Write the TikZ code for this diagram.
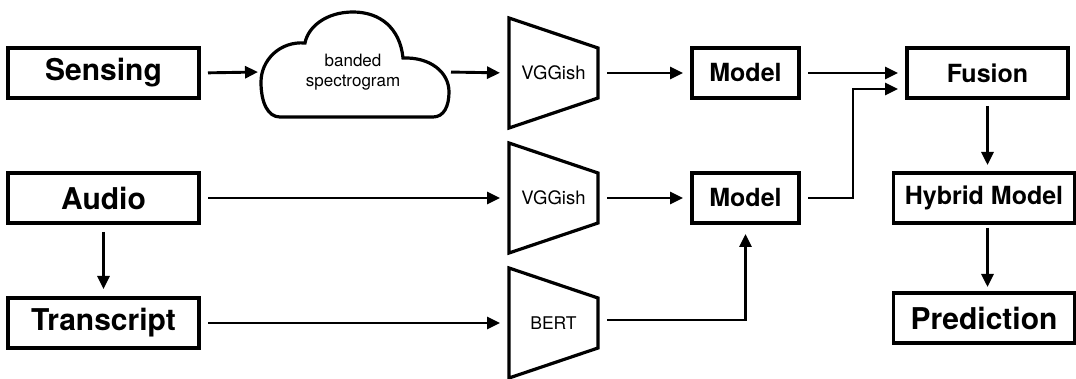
\documentclass[tikz,border=0pt]{standalone}
\usepackage{fontspec}
\setmainfont{TeX Gyre Heros}
\usetikzlibrary{arrows.meta}

\begin{document}
\begin{tikzpicture}[x=1pt,y=-1pt,line join=miter,
		box/.style={draw,line width=3.2pt,minimum width=191pt,minimum height=50pt,inner sep=0pt,outer sep=0pt,font=\fontsize{30}{36}\selectfont\bfseries},
		modelbox/.style={box,minimum width=107pt,font=\fontsize{25}{30}\selectfont\bfseries},
		net/.style={minimum width=89pt,minimum height=50pt,inner sep=0pt,outer sep=0pt,font=\fontsize{18.5}{22}\selectfont},
		arr/.style={-{Triangle[length=13pt,width=12pt]},line width=2.9pt,shorten <=9pt,shorten >=9pt}]
		\useasboundingbox (0,0) rectangle (1076,379);
		% inputs
		\node[box] (sensing) at (103.5,73) {Sensing};
		\node[box] (audio) at (103.5,198) {Audio};
		\node[box] (transcript) at (103.5,323) {Transcript};
		% cloud
		\node[minimum width=188pt,inner sep=0pt,outer sep=0pt,align=center,font=\fontsize{17}{20}\selectfont] (cloud) at (353,72) {banded\\spectrogram};
		\draw [line width=3.2pt] (280,117) -- (433,117)
			.. controls (444,117) and (449,106) .. (449,92)
			.. controls (449,72) and (430,57) .. (403,58)
			.. controls (400,28) and (380,12) .. (353,12)
			.. controls (326,12) and (308,27) .. (305,43)
			.. controls (280,41) and (261,60) .. (261,82)
			.. controls (261,103) and (268,117) .. (280,117) -- cycle;
		% encoders
		\node[net] (vgg1) at (553.5,73) {VGGish};
		\node[net] (vgg2) at (553.5,198) {VGGish};
		\node[net,font=\fontsize{17.5}{21}\selectfont] (bert) at (553.5,323) {BERT};
		\foreach \n in {vgg1,vgg2,bert}
			\draw [line width=3.2pt] (\n.north east) -- ([yshift=30pt]\n.north west) -- ([yshift=-30pt]\n.south west) -- (\n.south east) -- cycle;
		% models
		\node[modelbox] (model1) at (745.5,73) {Model};
		\node[modelbox] (model2) at (745.5,198) {Model};
		\node[box,minimum width=161pt,font=\fontsize{25}{30}\selectfont\bfseries] (fusion) at (987.5,73) {Fusion};
		\node[box,minimum width=181pt,font=\fontsize{25}{30}\selectfont\bfseries] (hybrid) at (984,198) {Hybrid Model};
		\node[box,minimum width=181pt] (prediction) at (984,318) {Prediction};
		% connectors
		\draw [arr,shorten >=1pt] (sensing.east) -- (cloud.west);
		\draw [arr,shorten <=4pt] (cloud.east) -- (vgg1.west);
		\draw [arr] (vgg1.east) -- (model1.west);
		\draw [arr] (model1.east) -- (fusion.west);
		\draw [arr] (audio.east) -- (vgg2.west);
		\draw [arr] (vgg2.east) -- (model2.west);
		\draw [arr] (transcript.east) -- (bert.west);
		\draw [arr] (audio.south) -- (transcript.north);
		\draw [arr,shorten <=9pt,shorten >=11pt] ([yshift=3pt]bert.east) -| (model2.south);
		\draw [arr] (model2.east) -- ++(54,0) |- ([yshift=-16pt]fusion.west);
		\draw [arr,shorten <=8pt,shorten >=8pt] (fusion.south) -- (fusion.south |- hybrid.north);
		\draw [arr,shorten <=5pt,shorten >=6pt] (fusion.south |- hybrid.south) -- (fusion.south |- prediction.north);
	\end{tikzpicture}
\end{document}
